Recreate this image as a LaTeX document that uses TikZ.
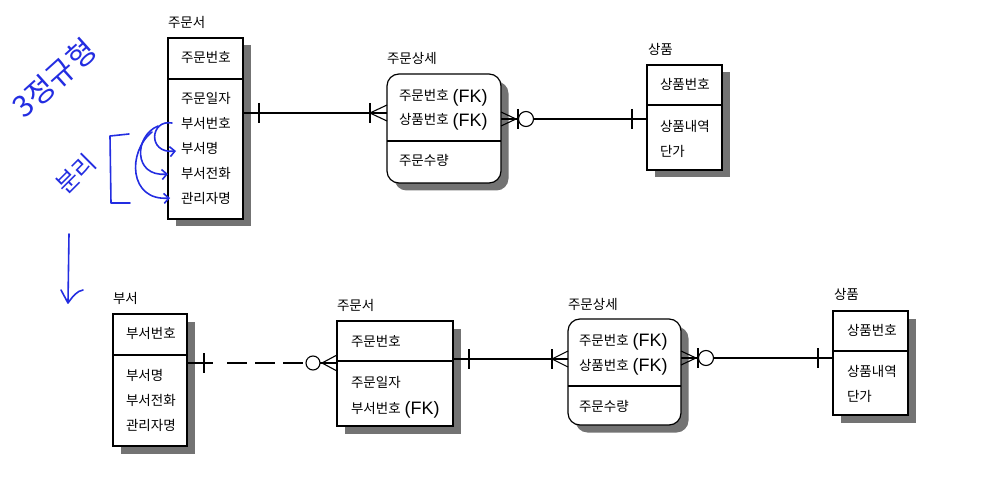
\documentclass[tikz,border=0pt]{standalone}
\usepackage{fontspec}
\newfontfamily\kr{Noto Sans CJK KR}
\newfontfamily\fkfont{Liberation Sans}
\usetikzlibrary{shadows,arrows.meta}
\definecolor{ink}{RGB}{35,45,225}
\definecolor{shade}{gray}{0.45}
\newcommand\fkmark{\hspace{4pt}{\fkfont\fontsize{18}{19}\selectfont\raisebox{-1.2pt}{(FK)}}}
\begin{document}
\begin{tikzpicture}[x=1pt,y=-1pt,
  every node/.style={inner sep=0pt, outer sep=0pt},
  entity/.style={draw, line width=1.2pt, fill=white, anchor=north west,
    drop shadow={shadow xshift=7.5pt, shadow yshift=-7.5pt, fill=shade, opacity=1}},
  relbox/.style={entity, rounded corners=12pt},
  txt/.style={anchor=base west, font=\kr\fontsize{13.5}{16}\selectfont},
  divider/.style={line width=1.2pt},
  link/.style={line width=1.1pt},
  hand/.style={ink, line width=1.6pt, line cap=round, line join=round},
  handtxt/.style={ink, font=\kr\fontsize{30}{32}\selectfont},
  barb/.style={-{Straight Barb[length=5pt,width=10pt]}}
]
\useasboundingbox (0,0) rectangle (985,489);

% ---------- before: single order table ----------
\node[entity, minimum width=75pt, minimum height=181pt] (ordA) at (168,38) {};
\draw[divider] ([yshift=-41pt]ordA.north west) -- ([yshift=-41pt]ordA.north east);
\node[txt] (ordAt) at (168,28) {주문서};
\node[txt] (ordA1) at (181,63) {주문번호};
\node[txt] (ordA2) at (181,104) {주문일자};
\node[txt] (ordA3) at (181,129) {부서번호};
\node[txt] (ordA4) at (181,154) {부서명};
\node[txt] (ordA5) at (181,179) {부서전화};
\node[txt] (ordA6) at (181,204) {관리자명};

\node[relbox, minimum width=114pt, minimum height=109pt] (detA) at (387,74) {};
\draw[divider] ([yshift=-67pt]detA.north west) -- ([yshift=-67pt]detA.north east);
\node[txt] (detAt) at (387,64) {주문상세};
\node[txt] (detA1) at (399,101) {주문번호\fkmark};
\node[txt] (detA2) at (399,125) {상품번호\fkmark};
\node[txt] (detA3) at (399,166) {주문수량};

\node[entity, minimum width=75pt, minimum height=105pt] (prodA) at (647,65) {};
\draw[divider] ([yshift=-40pt]prodA.north west) -- ([yshift=-40pt]prodA.north east);
\node[txt] (prodAt) at (648,55) {상품};
\node[txt] (prodA1) at (660,90) {상품번호};
\node[txt] (prodA2) at (660,132) {상품내역};
\node[txt] (prodA3) at (660,157) {단가};

% order -> order detail
\coordinate (rowA1) at (0,113);
\coordinate (sA1) at (ordA.east |- rowA1);
\coordinate (eA1) at (detA.west |- rowA1);
\draw[link] (sA1) -- (eA1);
\draw[link] ([shift={(16,-10)}]sA1) -- ([shift={(16,10)}]sA1);
\draw[link] ([shift={(-17,-10)}]eA1) -- ([shift={(-17,10)}]eA1);
\draw[link] ([shift={(0,-8)}]eA1) -- ([shift={(-17,0)}]eA1) -- ([shift={(0,8)}]eA1);

% order detail -> product
\coordinate (rowA2) at (0,119);
\coordinate (sA2) at (detA.east |- rowA2);
\coordinate (eA2) at (prodA.west |- rowA2);
\draw[link] (sA2) -- (eA2);
\draw[link] ([shift={(0,-7)}]sA2) -- ([shift={(15,0)}]sA2) -- ([shift={(0,7)}]sA2);
\draw[link] ([shift={(17,-10)}]sA2) -- ([shift={(17,10)}]sA2);
\draw[link, fill=white] ([shift={(25,0)}]sA2) circle[radius=7.5pt];
\draw[link] ([shift={(-15,-10)}]eA2) -- ([shift={(-15,10)}]eA2);

% ---------- after: department split out ----------
\node[entity, minimum width=74pt, minimum height=132pt] (dept) at (113,314) {};
\draw[divider] ([yshift=-41pt]dept.north west) -- ([yshift=-41pt]dept.north east);
\node[txt] (deptt) at (113,303) {부서};
\node[txt] (dept1) at (126,338) {부서번호};
\node[txt] (dept2) at (126,380) {부서명};
\node[txt] (dept3) at (126,405) {부서전화};
\node[txt] (dept4) at (126,430) {관리자명};

\node[entity, minimum width=116pt, minimum height=105pt] (ordB) at (337,321) {};
\draw[divider] ([yshift=-40pt]ordB.north west) -- ([yshift=-40pt]ordB.north east);
\node[txt] (ordBt) at (337,310) {주문서};
\node[txt] (ordB1) at (351,346) {주문번호};
\node[txt] (ordB2) at (351,387) {주문일자};
\node[txt] (ordB3) at (351,413) {부서번호\fkmark};

\node[relbox, minimum width=113pt, minimum height=106pt] (detB) at (568,319) {};
\draw[divider] ([yshift=-67pt]detB.north west) -- ([yshift=-67pt]detB.north east);
\node[txt] (detBt) at (568,309) {주문상세};
\node[txt] (detB1) at (579,345) {주문번호\fkmark};
\node[txt] (detB2) at (579,370) {상품번호\fkmark};
\node[txt] (detB3) at (579,411) {주문수량};

\node[entity, minimum width=75pt, minimum height=104pt] (prodB) at (833,311) {};
\draw[divider] ([yshift=-40pt]prodB.north west) -- ([yshift=-40pt]prodB.north east);
\node[txt] (prodBt) at (834,299) {상품};
\node[txt] (prodB1) at (847,335) {상품번호};
\node[txt] (prodB2) at (847,376) {상품내역};
\node[txt] (prodB3) at (847,401) {단가};

% department -> order (non-identifying, dashed)
\coordinate (rowB1) at (0,363);
\coordinate (sB1) at (dept.east |- rowB1);
\coordinate (eB1) at (ordB.west |- rowB1);
\draw[link] (sB1) -- ([xshift=26pt]sB1);
\draw[link, dash pattern=on 20pt off 8pt] ([xshift=40pt]sB1) -- ([xshift=116pt]sB1);
\draw[link] ([shift={(17,-10)}]sB1) -- ([shift={(17,10)}]sB1);
\draw[link] ([shift={(-17,0)}]eB1) -- (eB1);
\draw[link] ([shift={(0,-8)}]eB1) -- ([shift={(-15,0)}]eB1) -- ([shift={(0,8)}]eB1);
\draw[link, fill=white] ([shift={(-24,0)}]eB1) circle[radius=7pt];

% order -> order detail
\coordinate (rowB2) at (0,359);
\coordinate (sB2) at (ordB.east |- rowB2);
\coordinate (eB2) at (detB.west |- rowB2);
\draw[link] (sB2) -- (eB2);
\draw[link] ([shift={(16,-10)}]sB2) -- ([shift={(16,10)}]sB2);
\draw[link] ([shift={(-16,-10)}]eB2) -- ([shift={(-16,10)}]eB2);
\draw[link] ([shift={(0,-8)}]eB2) -- ([shift={(-16,0)}]eB2) -- ([shift={(0,8)}]eB2);

% order detail -> product
\coordinate (rowB3) at (0,358);
\coordinate (sB3) at (detB.east |- rowB3);
\coordinate (eB3) at (prodB.west |- rowB3);
\draw[link] (sB3) -- (eB3);
\draw[link] ([shift={(0,-7)}]sB3) -- ([shift={(15,0)}]sB3) -- ([shift={(0,7)}]sB3);
\draw[link] ([shift={(17,-10)}]sB3) -- ([shift={(17,10)}]sB3);
\draw[link, fill=white] ([shift={(25,0)}]sB3) circle[radius=7.5pt];
\draw[link] ([shift={(-15,-10)}]eB3) -- ([shift={(-15,10)}]eB3);

% ---------- pen notes ----------
\node[handtxt, rotate=42] (noteA) at (54,78) {3정규형};
\node[ink, font=\kr\fontsize{24}{26}\selectfont, rotate=45] (noteB) at (76,174) {분리};
\draw[hand] (129,134) -- (110,136) -- (111,203) -- (130,203);
\draw[hand, barb] (172,123) .. controls (150,119) and (147,154) .. (176,151);
\draw[hand, barb] (158,126) .. controls (134,136) and (133,177) .. (168,174);
\draw[hand, barb] (152,132) .. controls (127,152) and (129,201) .. (170,198);
\draw[hand] (69,234) -- (68,302);
\draw[hand] (61,290) -- (68,303) .. controls (73,296) and (77,291) .. (83,290);
\end{tikzpicture}
\end{document}
